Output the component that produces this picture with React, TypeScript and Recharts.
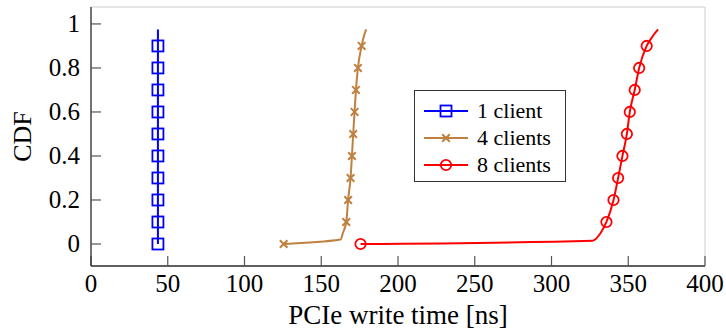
import React from 'react';
import { LineChart, Line, XAxis, YAxis, CartesianGrid, Legend, Label } from 'recharts';

const markLevels = [0, 0.1, 0.2, 0.3, 0.4, 0.5, 0.6, 0.7, 0.8, 0.9];
const xTicks = [0, 50, 100, 150, 200, 250, 300, 350, 400];
const yTicks = [0, 0.2, 0.4, 0.6, 0.8, 1];

const seriesNames = ['1 client', '4 clients', '8 clients'];

const client1X = [43.6, 43.6, 43.6, 43.6, 43.6, 43.6, 43.6, 43.6, 43.6, 43.6, 43.6];
const client1Y = [0, 0.1, 0.2, 0.3, 0.4, 0.5, 0.6, 0.7, 0.8, 0.9, 0.975];

const client4X = [125.5, 162.6, 164.1, 166.3, 167.5, 169.1, 170.0, 170.8, 171.7, 172.6, 173.9, 176.3, 177.8, 179.3];
const client4Y = [0, 0.02, 0.05, 0.1, 0.2, 0.3, 0.4, 0.5, 0.6, 0.7, 0.8, 0.9, 0.945, 0.975];

const client8X = [175.6, 326.7, 332.0, 335.8, 340.4, 343.4, 346.2, 349.1, 351.0, 354.2, 357.1, 362.0, 366.0, 369.4];
const client8Y = [0, 0.015, 0.05, 0.1, 0.2, 0.3, 0.4, 0.5, 0.6, 0.7, 0.8, 0.9, 0.945, 0.975];

const build = (xs: number[], ys: number[]) =>
  xs.map((x, i) => ({ x, y: ys[i], mark: markLevels.includes(ys[i]) }));

const data1 = build(client1X, client1Y);
const data4 = build(client4X, client4Y);
const data8 = build(client8X, client8Y);

const BLUE = '#0000ff';
const BROWN = '#bf8040';
const RED = '#ff0000';
const FONT = 'Liberation Serif';
const FRAME = '#333333';

const Square = ({ cx, cy, color }: any) => (
  <rect x={cx - 5.5} y={cy - 5.5} width={11} height={11} fill="none" stroke={color} strokeWidth={1.8} />
);
const Cross = ({ cx, cy, color }: any) => (
  <g stroke={color} strokeWidth={2}>
    <line x1={cx - 3.8} y1={cy - 3.8} x2={cx + 3.8} y2={cy + 3.8} />
    <line x1={cx - 3.8} y1={cy + 3.8} x2={cx + 3.8} y2={cy - 3.8} />
  </g>
);
const Circle = ({ cx, cy, color }: any) => (
  <circle cx={cx} cy={cy} r={5.2} fill="none" stroke={color} strokeWidth={1.8} />
);

const makeDot = (Shape: any, color: string) => (props: any) => {
  const { cx, cy, payload, index } = props;
  if (!payload || !payload.mark) return <g key={`e-${index}`} />;
  return (
    <g key={`d-${index}`}>
      <Shape cx={cx} cy={cy} color={color} />
    </g>
  );
};

const legendItems = [
  { name: seriesNames[0], color: BLUE, Shape: Square },
  { name: seriesNames[1], color: BROWN, Shape: Cross },
  { name: seriesNames[2], color: RED, Shape: Circle },
];

const LegendBox = () => (
  <div
    style={{
      boxSizing: 'border-box',
      width: 152,
      height: 92,
      border: `1.3px solid ${FRAME}`,
      background: '#fff',
      paddingTop: 6,
    }}
  >
    {legendItems.map((it) => (
      <div key={it.name} style={{ display: 'flex', alignItems: 'center', height: 27 }}>
        <svg width={62} height={20} style={{ flex: 'none' }}>
          <line x1={9} y1={10} x2={53} y2={10} stroke={it.color} strokeWidth={2} />
          <it.Shape cx={31} cy={10} color={it.color} />
        </svg>
        <span style={{ lineHeight: '27px', whiteSpace: 'nowrap', fontFamily: FONT, fontSize: 22, color: '#000' }}>
          {it.name}
        </span>
      </div>
    ))}
  </div>
);

const XTick = ({ x, y, payload }: any) => (
  <text x={x} y={y + 18} textAnchor="middle" style={{ fontFamily: FONT, fontSize: 25 }} fill="#000">
    {payload.value}
  </text>
);

const YTick = ({ x, y, payload }: any) => (
  <text x={x} y={y + 8.5} textAnchor="end" style={{ fontFamily: FONT, fontSize: 25 }} fill="#000">
    {payload.value}
  </text>
);

export default function App() {
  return (
    <div style={{ position: 'absolute', left: 0, top: 0, background: '#fff' }}>
      <LineChart width={726} height={333} margin={{ top: 7, right: 21, bottom: 0, left: 0 }}>
        <CartesianGrid stroke="#cccccc" strokeWidth={1} />
        <XAxis
          xAxisId="b"
          dataKey="x"
          type="number"
          domain={[0, 400]}
          ticks={xTicks}
          allowDataOverflow
          height={67}
          tickSize={-10}
          tickMargin={18}
          tick={<XTick />}
          axisLine={{ stroke: FRAME, strokeWidth: 1.3 }}
          tickLine={{ stroke: '#555', strokeWidth: 1.2 }}
        >
          <Label
            content={(p: any) => {
              const vb = p.viewBox || { x: 91, width: 614 };
              return (
                <text x={vb.x + vb.width / 2} y={324} textAnchor="middle" style={{ fontFamily: FONT, fontSize: 27 }} fill="#000">
                  PCIe write time [ns]
                </text>
              );
            }}
          />
        </XAxis>
        <XAxis
          xAxisId="t"
          orientation="top"
          dataKey="x"
          type="number"
          domain={[0, 400]}
          ticks={xTicks}
          height={0}
          tickSize={-10}
          tick={false}
          axisLine={{ stroke: FRAME, strokeWidth: 1.3 }}
          tickLine={{ stroke: '#555', strokeWidth: 1.2 }}
        />
        <YAxis
          yAxisId="l"
          type="number"
          domain={[-0.1, 1.077]}
          ticks={yTicks}
          allowDataOverflow
          width={91}
          tickSize={-10}
          tickMargin={21}
          tick={<YTick />}
          axisLine={{ stroke: FRAME, strokeWidth: 1.3 }}
          tickLine={{ stroke: '#555', strokeWidth: 1.2 }}
        >
          <Label
            content={(p: any) => {
              const vb = p.viewBox || { y: 7, height: 259 };
              const cy = vb.y + vb.height / 2;
              return (
                <text transform={`translate(31, ${cy}) rotate(-90)`} textAnchor="middle" style={{ fontFamily: FONT, fontSize: 26 }} fill="#000">
                  CDF
                </text>
              );
            }}
          />
        </YAxis>
        <YAxis
          yAxisId="r"
          orientation="right"
          type="number"
          domain={[-0.1, 1.077]}
          ticks={yTicks}
          width={0}
          tickSize={-10}
          tick={false}
          axisLine={{ stroke: FRAME, strokeWidth: 1.3 }}
          tickLine={{ stroke: '#555', strokeWidth: 1.2 }}
        />
        <Line
          xAxisId="b"
          yAxisId="l"
          data={data1}
          dataKey="y"
          name={seriesNames[0]}
          type="linear"
          stroke={BLUE}
          strokeWidth={2}
          dot={makeDot(Square, BLUE)}
          activeDot={false}
          isAnimationActive={false}
        />
        <Line
          xAxisId="b"
          yAxisId="l"
          data={data4}
          dataKey="y"
          name={seriesNames[1]}
          type="monotone"
          stroke={BROWN}
          strokeWidth={2}
          dot={makeDot(Cross, BROWN)}
          activeDot={false}
          isAnimationActive={false}
        />
        <Line
          xAxisId="b"
          yAxisId="l"
          data={data8}
          dataKey="y"
          name={seriesNames[2]}
          type="monotone"
          stroke={RED}
          strokeWidth={2}
          dot={makeDot(Circle, RED)}
          activeDot={false}
          isAnimationActive={false}
        />
        <Legend
          layout="horizontal"
          align="center"
          verticalAlign="middle"
          content={() => <LegendBox />}
          wrapperStyle={{ left: 414, top: 90, width: 152, height: 92, fontFamily: FONT }}
        />
      </LineChart>
    </div>
  );
}
